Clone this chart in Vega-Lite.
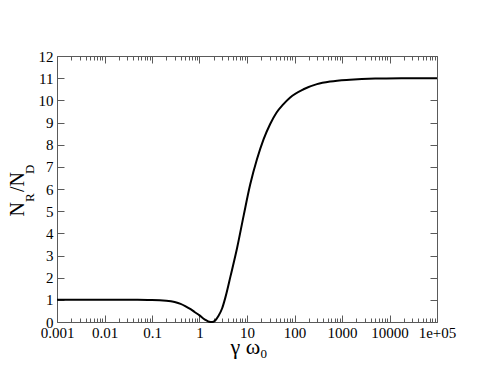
{
  "$schema": "https://vega.github.io/schema/vega-lite/v6.json",
  "width": 380,
  "height": 266,
  "autosize": {"type": "none"},
  "padding": {"left": 57, "top": 56, "right": 54, "bottom": 57},
  "background": "white",
  "config": {
    "view": {"stroke": null},
    "font": "Liberation Serif",
    "axis": {
      "domainColor": "#5a5a5a",
      "domainWidth": 1,
      "tickColor": "#5a5a5a",
      "tickWidth": 1,
      "labelFont": "Liberation Serif",
      "labelFontSize": 15,
      "labelColor": "black",
      "titleFont": "Liberation Serif",
      "titleColor": "black",
      "titleFontWeight": "normal",
      "grid": false,
      "labelOverlap": false,
      "labelFlush": false
    }
  },
  "data": {
    "values": [
      {"g": 0.001, "r": 1.0},
      {"g": 0.01, "r": 1.0},
      {"g": 0.05, "r": 1.0},
      {"g": 0.1, "r": 0.995},
      {"g": 0.2, "r": 0.96},
      {"g": 0.3, "r": 0.9},
      {"g": 0.4, "r": 0.82},
      {"g": 0.5, "r": 0.72},
      {"g": 0.65, "r": 0.58},
      {"g": 0.8, "r": 0.44},
      {"g": 1.0, "r": 0.3},
      {"g": 1.2, "r": 0.16},
      {"g": 1.4, "r": 0.07},
      {"g": 1.6, "r": 0.015},
      {"g": 1.85, "r": 0.0},
      {"g": 2.1, "r": 0.05},
      {"g": 2.5, "r": 0.27},
      {"g": 3.0, "r": 0.62},
      {"g": 3.5, "r": 1.1},
      {"g": 4.5, "r": 2.07},
      {"g": 6.2, "r": 3.35},
      {"g": 8.5, "r": 4.8},
      {"g": 11.7, "r": 6.21},
      {"g": 16.2, "r": 7.34},
      {"g": 22.3, "r": 8.24},
      {"g": 30.6, "r": 8.92},
      {"g": 42, "r": 9.45},
      {"g": 58, "r": 9.82},
      {"g": 80, "r": 10.12},
      {"g": 155, "r": 10.5},
      {"g": 297, "r": 10.73},
      {"g": 570, "r": 10.85},
      {"g": 1470, "r": 10.93},
      {"g": 5000, "r": 10.98},
      {"g": 20000, "r": 10.995},
      {"g": 100000, "r": 11.0}
    ]
  },
  "resolve": {"axis": {"x": "independent", "y": "independent"}},
  "layer": [
    {
      "mark": {"type": "line", "color": "black", "strokeWidth": 2, "interpolate": "monotone"},
      "encoding": {
        "x": {
          "field": "g", "type": "quantitative",
          "scale": {"type": "log", "domain": [0.001, 100000], "nice": false},
          "axis": {
            "orient": "bottom",
            "values": [0.001,0.002,0.003,0.004,0.005,0.006,0.007,0.008,0.009,
                       0.01,0.02,0.03,0.04,0.05,0.06,0.07,0.08,0.09,
                       0.1,0.2,0.3,0.4,0.5,0.6,0.7,0.8,0.9,
                       1,2,3,4,5,6,7,8,9,
                       10,20,30,40,50,60,70,80,90,
                       100,200,300,400,500,600,700,800,900,
                       1000,2000,3000,4000,5000,6000,7000,8000,9000,
                       10000,20000,30000,40000,50000,60000,70000,80000,90000,
                       100000],
            "labelExpr": "abs(log(datum.value)/LN10 - round(log(datum.value)/LN10)) < 1e-6 ? (datum.value > 99999 ? '1e+05' : format(datum.value, '')) : ''",
            "labelFont": "Liberation Serif",
            "labelFontSize": 15,
            "tickSize": {"condition": {"test": "abs(log(datum.value)/LN10 - round(log(datum.value)/LN10)) < 1e-6", "value": -7}, "value": -4},
            "labelPadding": 10,
            "title": "γ\u00a0ω",
            "titleFont": "Liberation Serif",
            "titleFontSize": 22,
            "titleAlign": "left",
            "titleBaseline": "alphabetic",
            "titleAnchor": "start",
            "titleX": 173,
            "titleY": 31
          }
        },
        "y": {
          "field": "r", "type": "quantitative",
          "scale": {"domain": [0, 12], "nice": false, "zero": true},
          "axis": {
            "orient": "left",
            "values": [0,1,2,3,4,5,6,7,8,9,10,11,12],
            "labelFont": "Liberation Serif",
            "labelFontSize": 15,
            "tickSize": -7,
            "labelPadding": 11,
            "title": "N\u00a0\u00a0/N",
            "titleFont": "Liberation Serif",
            "titleFontSize": 20,
            "titleAngle": -90,
            "titleAlign": "left",
            "titleBaseline": "alphabetic",
            "titleX": -33.5,
            "titleY": 160
          }
        }
      }
    },
    {
      "mark": {"type": "line", "color": "black", "strokeWidth": 2, "opacity": 0, "interpolate": "monotone"},
      "encoding": {
        "x": {
          "field": "g", "type": "quantitative",
          "axis": {
            "orient": "top",
            "labels": false,
            "values": [0.001,0.002,0.003,0.004,0.005,0.006,0.007,0.008,0.009,
                       0.01,0.02,0.03,0.04,0.05,0.06,0.07,0.08,0.09,
                       0.1,0.2,0.3,0.4,0.5,0.6,0.7,0.8,0.9,
                       1,2,3,4,5,6,7,8,9,
                       10,20,30,40,50,60,70,80,90,
                       100,200,300,400,500,600,700,800,900,
                       1000,2000,3000,4000,5000,6000,7000,8000,9000,
                       10000,20000,30000,40000,50000,60000,70000,80000,90000,
                       100000],
            "tickSize": {"condition": {"test": "abs(log(datum.value)/LN10 - round(log(datum.value)/LN10)) < 1e-6", "value": -7}, "value": -4},
            "title": "0",
            "titleFont": "Liberation Serif",
            "titleFontSize": 13,
            "titleAlign": "left",
            "titleBaseline": "alphabetic",
            "titleAnchor": "start",
            "titleX": 203,
            "titleY": 301
          }
        },
        "y": {
          "field": "r", "type": "quantitative",
          "axis": {
            "orient": "right",
            "labels": false,
            "values": [0,1,2,3,4,5,6,7,8,9,10,11,12],
            "tickSize": -7,
            "title": "R\u00a0\u00a0\u00a0\u00a0\u00a0\u00a0D",
            "titleFont": "Liberation Serif",
            "titleFontSize": 13,
            "titleAngle": -90,
            "titleAlign": "left",
            "titleBaseline": "alphabetic",
            "titleX": -404,
            "titleY": 145.6
          }
        }
      }
    }
  ]
}
